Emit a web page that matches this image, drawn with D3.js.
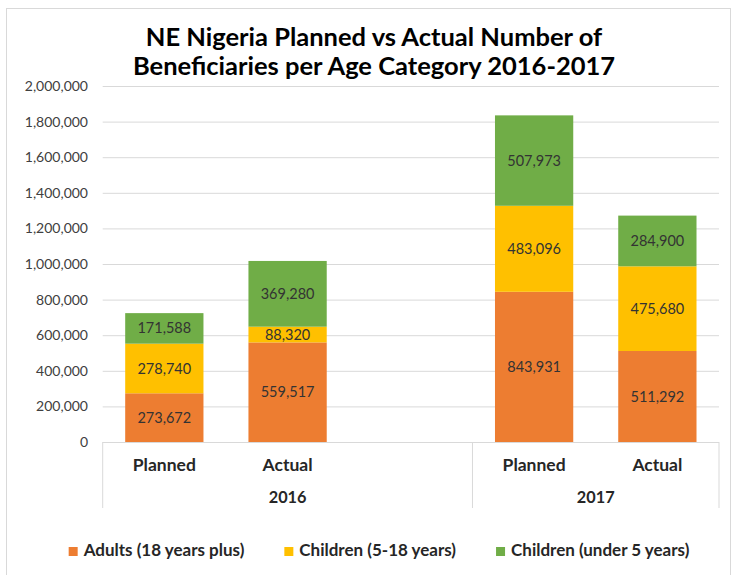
<!DOCTYPE html>
<html>
<head>
<meta charset="utf-8">
<script src="https://cdn.jsdelivr.net/npm/d3@7/dist/d3.min.js"></script>
<style>
  html, body { margin: 0; padding: 0; background: #fff; }
  svg { display: block; font-family: Lato, "Open Sans", sans-serif; }
</style>
</head>
<body>
<svg id="chart" width="736" height="575"></svg>
<script>
// Stacked beneficiaries by age category, grouped by year
const years = ["2016", "2017"];
const categories = [
  { year: "2016", label: "Planned" },
  { year: "2016", label: "Actual" },
  { year: "2016", label: "" },          // empty slot inside the 2016 group
  { year: "2017", label: "Planned" },
  { year: "2017", label: "Actual" }
];
const seriesNames = ["Adults (18 years plus)", "Children (5-18 years)", "Children (under 5 years)"];
const seriesColors = ["#ED7D31", "#FFC000", "#70AD47"];
const adults     = [273672, 559517, null, 843931, 511292];
const children   = [278740,  88320, null, 483096, 475680];
const under5     = [171588, 369280, null, 507973, 284900];
const yTicks = [0, 200000, 400000, 600000, 800000, 1000000, 1200000, 1400000, 1600000, 1800000, 2000000];

const svg = d3.select("#chart");
const plot = { left: 102.7, right: 719, top: 86, bottom: 442 };

// outer chart frame
svg.append("rect")
  .attr("x", 6.5).attr("y", 8.5).attr("width", 724).attr("height", 600)
  .attr("fill", "#fff").attr("stroke", "#d9d9d9");

// title
const title = svg.append("text")
  .attr("text-anchor", "middle")
  .attr("font-size", 25.5).attr("font-weight", "bold").attr("fill", "#000");
title.append("tspan").attr("x", 374).attr("y", 46).text("NE Nigeria Planned vs Actual Number of");
title.append("tspan").attr("x", 374).attr("y", 75).text("Beneficiaries per Age Category 2016-2017");

const keys = categories.map((c, i) => i);
const x = d3.scaleBand().domain(keys).range([plot.left, plot.right]).padding(0);
const y = d3.scaleLinear().domain([0, 2000000]).range([plot.bottom, plot.top]);
const barW = x.bandwidth() * 0.635;

// gridlines
svg.append("g")
  .attr("transform", `translate(${plot.left},0)`)
  .call(d3.axisLeft(y).tickValues(yTicks.filter(v => v > 0)).tickSize(-(plot.right - plot.left)).tickFormat(""))
  .call(g => g.select(".domain").remove())
  .call(g => g.selectAll("line").attr("stroke", "#d9d9d9"));

// y-axis labels
svg.append("g")
  .attr("transform", `translate(88,0)`)
  .call(d3.axisLeft(y).tickValues(yTicks).tickSize(0).tickPadding(0).tickFormat(d3.format(",")))
  .call(g => g.select(".domain").remove())
  .call(g => g.selectAll("text")
    .attr("font-family", "Lato, sans-serif").attr("font-size", 14).attr("fill", "#404040"));

// stacked bars
const rows = categories.map((c, i) => ({ i, a: adults[i], c: children[i], u: under5[i] }))
  .filter(r => r.a != null);
const stack = d3.stack().keys(["a", "c", "u"]);
const layers = stack(rows);

layers.forEach((layer, li) => {
  const g = svg.append("g");
  g.selectAll("rect").data(layer).join("rect")
    .attr("x", d => x(d.data.i) + (x.bandwidth() - barW) / 2)
    .attr("width", barW)
    .attr("y", d => y(d[1]))
    .attr("height", d => y(d[0]) - y(d[1]))
    .attr("fill", seriesColors[li]);
  g.selectAll("text").data(layer).join("text")
    .attr("x", d => x(d.data.i) + x.bandwidth() / 2)
    .attr("y", d => (y(d[0]) + y(d[1])) / 2)
    .attr("dy", "0.35em")
    .attr("text-anchor", "middle")
    .attr("font-size", 14.5).attr("fill", "#333333")
    .text(d => d3.format(",")(d[1] - d[0]));
});

// baseline of the category axis
svg.append("line")
  .attr("x1", plot.left).attr("x2", plot.right)
  .attr("y1", plot.bottom + 0.5).attr("y2", plot.bottom + 0.5)
  .attr("stroke", "#d9d9d9");

// category labels
svg.append("g").selectAll("text").data(categories.map((c, i) => ({ ...c, i })).filter(c => c.label))
  .join("text")
  .attr("x", d => x(d.i) + x.bandwidth() / 2)
  .attr("y", 471)
  .attr("text-anchor", "middle")
  .attr("font-size", 17.5).attr("font-weight", "bold").attr("fill", "#262626")
  .text(d => d.label);

// year groups with separators
const groupBounds = years.map(yr => {
  const idx = categories.map((c, i) => c.year === yr ? i : -1).filter(i => i >= 0);
  return { year: yr, x0: x(idx[0]), x1: x(idx[idx.length - 1]) + x.bandwidth() };
});
const sepX = [groupBounds[0].x0, ...groupBounds.map(g => g.x1)];
svg.append("g").selectAll("line").data(sepX).join("line")
  .attr("x1", d => d).attr("x2", d => d)
  .attr("y1", plot.bottom).attr("y2", 508)
  .attr("stroke", "#d9d9d9");
svg.append("g").selectAll("text").data(groupBounds).join("text")
  .attr("x", d => (d.x0 + d.x1) / 2)
  .attr("y", 503)
  .attr("text-anchor", "middle")
  .attr("font-size", 16.3).attr("font-weight", "bold").attr("fill", "#262626")
  .text(d => d.year);

// legend
const legend = svg.append("g");
const items = legend.selectAll("g").data(seriesNames).join("g");
items.append("rect").attr("width", 9).attr("height", 9).attr("y", -9)
  .attr("fill", (d, i) => seriesColors[i]);
items.append("text").attr("x", 15).attr("y", 0)
  .attr("font-size", 17).attr("font-weight", "bold").attr("fill", "#262626")
  .text(d => d);
let cx = 0;
const widths = [];
items.each(function () { widths.push(this.querySelector("text").getComputedTextLength() + 15); });
items.attr("transform", (d, i) => {
  const t = `translate(${cx},0)`;
  cx += widths[i] + 40;
  return t;
});
const total = cx - 40;
legend.attr("transform", `translate(${379 - total / 2},556)`);
</script>
</body>
</html>
